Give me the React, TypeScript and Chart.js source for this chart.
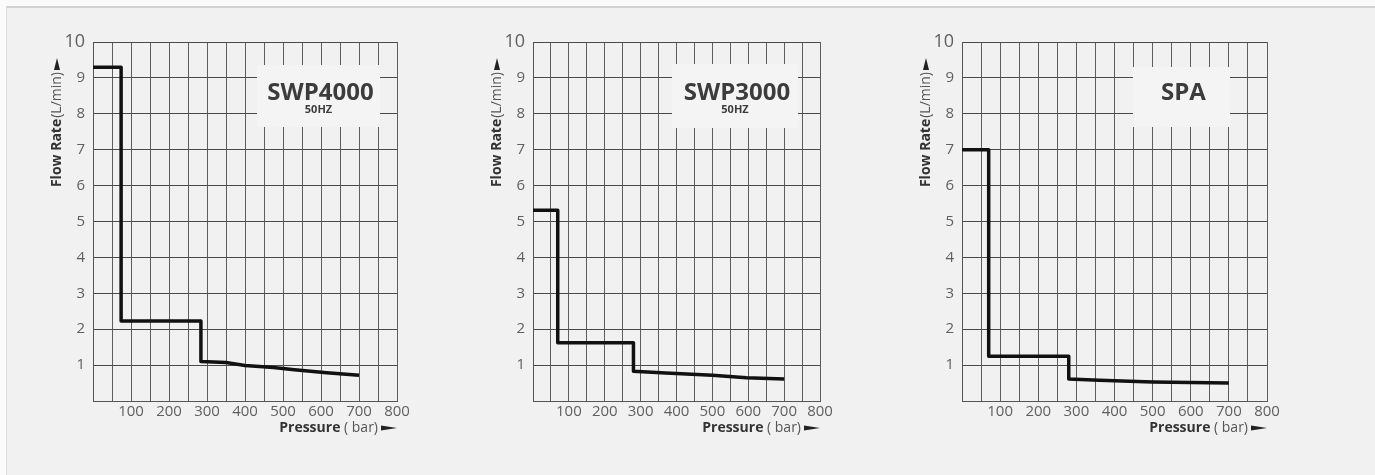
import React, { useEffect, useRef } from "react";
import { Chart, registerables } from "chart.js";

Chart.register(...registerables);

// ---------------- data ----------------
const swp4000Pressure = [0, 74, 74, 284, 284, 350, 400, 475, 530, 615, 700];
const swp4000Flow = [9.3, 9.3, 2.23, 2.23, 1.1, 1.07, 0.99, 0.93, 0.87, 0.79, 0.72];

const swp3000Pressure = [0, 69, 69, 280, 280, 370, 500, 595, 700];
const swp3000Flow = [5.31, 5.31, 1.62, 1.62, 0.83, 0.78, 0.72, 0.65, 0.61];

const spaPressure = [0, 70, 70, 280, 280, 360, 500, 700];
const spaFlow = [7.0, 7.0, 1.25, 1.25, 0.61, 0.58, 0.53, 0.5];

const panelTitles = ["SWP4000", "SWP3000", "SPA"];
const panelSubtitles = ["50HZ", "50HZ", ""];

const xTitleBold = "Pressure";
const xTitleUnit = " ( bar)";
const yTitleBold = "Flow Rate";
const yTitleUnit = "(L/min)";

const X_MIN = 0;
const X_MAX = 800;
const X_GRID_STEP = 50;
const X_LABEL_STEP = 100;
const Y_MIN = 0;
const Y_MAX = 10;
const Y_STEP = 1;

// ---------------- layout / style ----------------
const FONT = "'Open Sans', 'DejaVu Sans', sans-serif";
const PAGE_BG = "#f1f1f1";
const BOX_BG = "#f4f4f4";
const PLOT_TOP = 42;
const PLOT_BOTTOM = 401;
const Y_AXIS_W = 80;
const RIGHT_PAD = 40;
const X_AXIS_H = 40;
const CANVAS_H = 475;

type Panel = {
  pressure: number[];
  flow: number[];
  title: string;
  subtitle: string;
  plotLeft: number;
  plotRight: number;
  box: { left: number; top: number; width: number; height: number };
};

const panels: Panel[] = [
  {
    pressure: swp4000Pressure,
    flow: swp4000Flow,
    title: panelTitles[0],
    subtitle: panelSubtitles[0],
    plotLeft: 93,
    plotRight: 397,
    box: { left: 164, top: 23, width: 123, height: 62 },
  },
  {
    pressure: swp3000Pressure,
    flow: swp3000Flow,
    title: panelTitles[1],
    subtitle: panelSubtitles[1],
    plotLeft: 533,
    plotRight: 820,
    box: { left: 139, top: 22, width: 126, height: 64 },
  },
  {
    pressure: spaPressure,
    flow: spaFlow,
    title: panelTitles[2],
    subtitle: panelSubtitles[2],
    plotLeft: 962,
    plotRight: 1267,
    box: { left: 171, top: 25, width: 97, height: 60 },
  },
];

const decorPlugin = {
  id: "decor",
  beforeDatasetsDraw(chart: any, _args: any, opts: any) {
    const { ctx, chartArea } = chart;
    const b = opts.box;
    ctx.save();
    ctx.fillStyle = BOX_BG;
    const bx = chartArea.left + b.left;
    const by = chartArea.top + b.top;
    ctx.fillRect(bx, by, b.width, b.height);
    ctx.fillStyle = "#3c3c3c";
    ctx.textAlign = "center";
    ctx.textBaseline = "middle";
    ctx.font = `bold 24px ${FONT}`;
    const cx = bx + b.width / 2;
    ctx.fillText(opts.title, cx + 2, chartArea.top + 51);
    if (opts.subtitle) {
      ctx.font = `bold 11px ${FONT}`;
      ctx.fillText(opts.subtitle, cx, chartArea.top + 68);
    }
    ctx.restore();
  },
  afterDraw(chart: any) {
    const { ctx, chartArea } = chart;
    ctx.save();
    // ---- y title (rotated) ----
    ctx.font = `bold 14px ${FONT}`;
    const w1 = ctx.measureText(yTitleBold).width;
    ctx.font = `14px ${FONT}`;
    const w2 = ctx.measureText(yTitleUnit).width;
    const arrowLen = 12;
    const total = w1 + 1 + w2 + 2 + arrowLen;
    const startY = chartArea.top + 16 + total;
    const cx = chartArea.left - 36;
    ctx.translate(cx, startY);
    ctx.rotate(-Math.PI / 2);
    ctx.textBaseline = "middle";
    ctx.textAlign = "left";
    ctx.fillStyle = "#333";
    ctx.font = `bold 14px ${FONT}`;
    ctx.fillText(yTitleBold, 0, 0);
    ctx.fillStyle = "#555";
    ctx.font = `14px ${FONT}`;
    ctx.fillText(yTitleUnit, w1 + 1, 0);
    const ax = w1 + 1 + w2 + 2;
    ctx.fillStyle = "#222";
    ctx.beginPath();
    ctx.moveTo(ax, -3);
    ctx.lineTo(ax + arrowLen, 0);
    ctx.lineTo(ax, 3);
    ctx.closePath();
    ctx.fill();
    ctx.restore();

    // ---- x title ----
    ctx.save();
    ctx.textBaseline = "middle";
    ctx.textAlign = "left";
    ctx.font = `bold 14px ${FONT}`;
    const xw1 = ctx.measureText(xTitleBold).width;
    ctx.font = `14px ${FONT}`;
    const xw2 = ctx.measureText(xTitleUnit).width;
    const xArrow = 16;
    const xTotal = xw1 + xw2 + 3 + xArrow;
    const sx = chartArea.right - xTotal;
    const yy = 428;
    ctx.fillStyle = "#333";
    ctx.font = `bold 14px ${FONT}`;
    ctx.fillText(xTitleBold, sx, yy);
    ctx.fillStyle = "#555";
    ctx.font = `14px ${FONT}`;
    ctx.fillText(xTitleUnit, sx + xw1, yy);
    const xa = sx + xw1 + xw2 + 3;
    ctx.fillStyle = "#222";
    ctx.beginPath();
    ctx.moveTo(xa, yy - 2.5);
    ctx.lineTo(xa + xArrow, yy);
    ctx.lineTo(xa, yy + 2.5);
    ctx.closePath();
    ctx.fill();
    ctx.restore();
  },
};

function PanelChart({ panel }: { panel: Panel }) {
  const ref = useRef<HTMLCanvasElement | null>(null);
  const width = panel.plotRight - panel.plotLeft + Y_AXIS_W + RIGHT_PAD;
  const left = panel.plotLeft - Y_AXIS_W;

  useEffect(() => {
    if (!ref.current) return;
    const data = panel.pressure.map((p, i) => ({ x: p, y: panel.flow[i] }));
    const chart = new Chart(ref.current, {
      type: "line",
      data: {
        datasets: [
          {
            data,
            borderColor: "#111",
            borderWidth: 3.5,
            pointRadius: 0,
            tension: 0,
            borderJoinStyle: "round",
            borderCapStyle: "butt",
            fill: false,
          },
        ],
      },
      options: {
        responsive: false,
        animation: false,
        events: [],
        layout: {
          padding: {
            left: 0,
            right: RIGHT_PAD,
            top: PLOT_TOP,
            bottom: CANVAS_H - PLOT_BOTTOM - X_AXIS_H,
          },
        },
        plugins: {
          legend: { display: false },
          tooltip: { enabled: false },
          decor: { box: panel.box, title: panel.title, subtitle: panel.subtitle },
        } as any,
        scales: {
          x: {
            type: "linear",
            min: X_MIN,
            max: X_MAX,
            afterFit: (s: any) => {
              s.height = X_AXIS_H;
            },
            ticks: {
              stepSize: X_GRID_STEP,
              autoSkip: false,
              maxRotation: 0,
              padding: 2,
              color: "#606060",
              font: { family: FONT, size: 15 },
              callback: (v: any) => (Number(v) > 0 && Number(v) % X_LABEL_STEP === 0 ? String(v) : ""),
            },
            grid: { color: "#5e5e5e", lineWidth: 1, drawTicks: false },
            border: { color: "#555", width: 1 },
          },
          y: {
            type: "linear",
            min: Y_MIN,
            max: Y_MAX,
            afterFit: (s: any) => {
              s.width = Y_AXIS_W;
            },
            ticks: {
              stepSize: Y_STEP,
              autoSkip: false,
              padding: 8,
              color: "#606060",
              font: (c: any) => ({ family: FONT, size: c.tick && c.tick.value === Y_MAX ? 18 : 15 }),
              callback: (v: any) => (Number(v) > 0 ? String(v) : ""),
            },
            grid: { color: "#4a4a4a", lineWidth: 1, drawTicks: false },
            border: { color: "#555", width: 1 },
          },
        },
      } as any,
      plugins: [decorPlugin as any],
    });
    return () => chart.destroy();
  }, [panel]);

  return (
    <canvas
      ref={ref}
      width={width}
      height={CANVAS_H}
      style={{ position: "absolute", left, top: 0, width, height: CANVAS_H }}
    />
  );
}

export default function App() {
  return (
    <div
      style={{
        position: "absolute",
        left: 0,
        top: 0,
        width: 1375,
        height: 475,
        background: "#fbfbfb",
        overflow: "hidden",
      }}
    >
      <div
        style={{
          position: "absolute",
          left: 6,
          top: 6,
          width: 1369,
          height: 469,
          boxSizing: "border-box",
          background: PAGE_BG,
          borderTop: "2px solid #d2d2d2",
          borderLeft: "1px solid #dddddd",
        }}
      />
      {panels.map((p, i) => (
        <PanelChart key={i} panel={p} />
      ))}
    </div>
  );
}
